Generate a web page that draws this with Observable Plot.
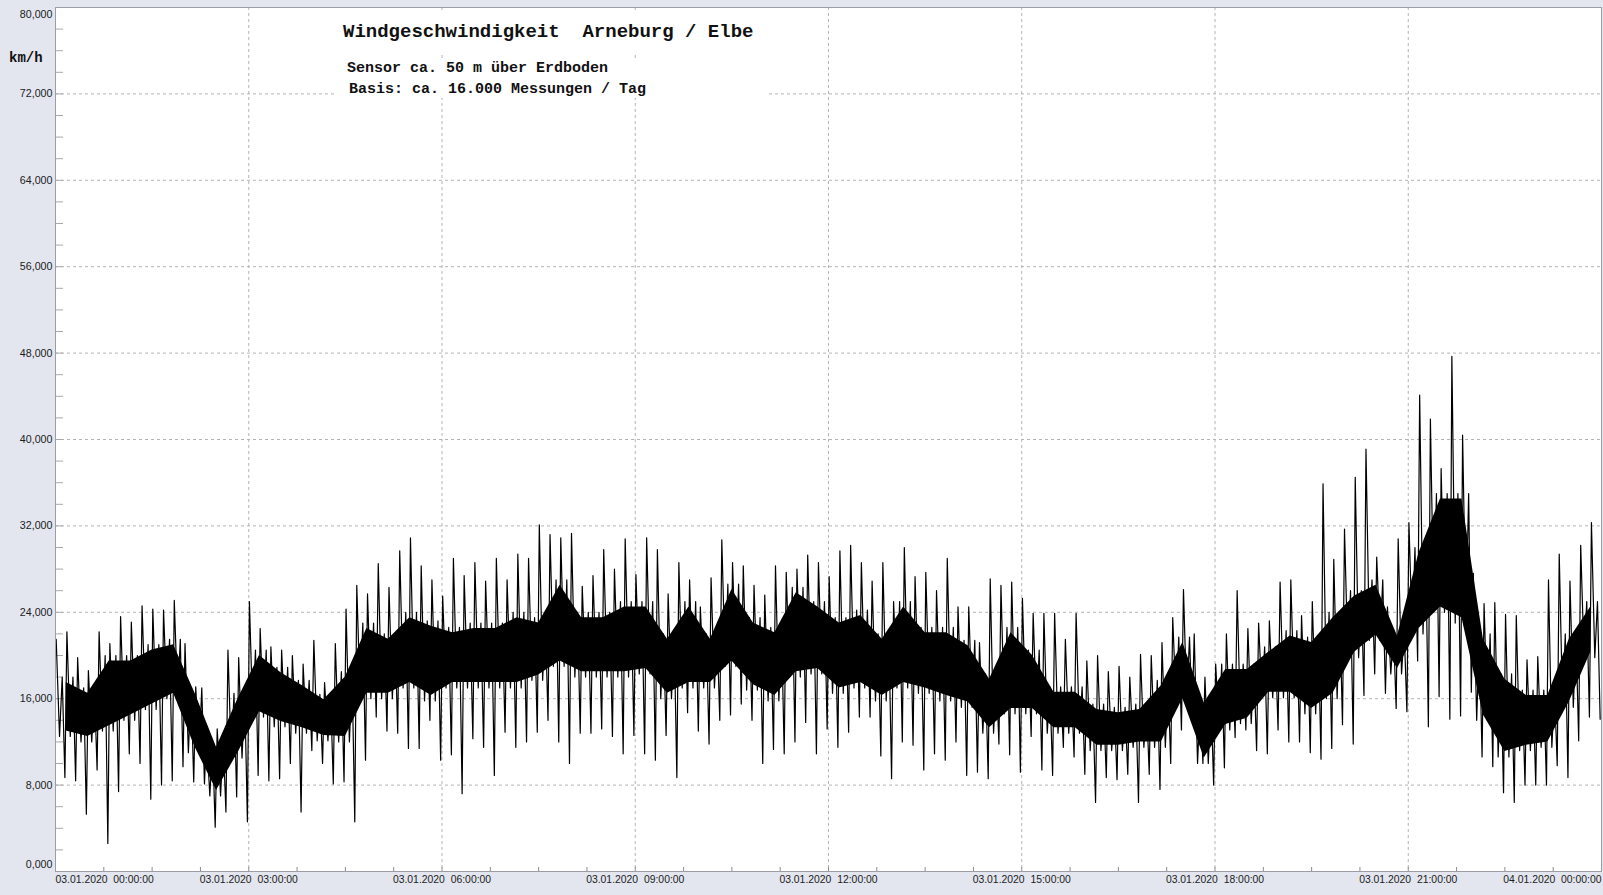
<!DOCTYPE html>
<html>
<head>
<meta charset="utf-8">
<script src="https://cdn.jsdelivr.net/npm/d3@7"></script>
<script src="https://cdn.jsdelivr.net/npm/@observablehq/plot@0.6"></script>
<style>
  html, body { margin: 0; padding: 0; background: #e3e6ef; }
  #wrap { position: relative; width: 1603px; height: 895px; overflow: hidden; }
  #wrap svg text { white-space: pre; }
  .box { position: absolute; background: #ffffff; }
  .txt { position: absolute; font-family: "Liberation Mono", "DejaVu Sans Mono", monospace; font-weight: bold; color: #111; white-space: pre; }
</style>
</head>
<body>
<div id="wrap">
  <div id="chart"></div>
  <div class="box" style="left:337px; top:11px; width:431px; height:44px;"></div>
  <div class="box" style="left:337px; top:61px; width:431px; height:37px;"></div>
  <div class="txt" style="left:343px; top:21px; font-size:19px; line-height:22px;">Windgeschwindigkeit  Arneburg / Elbe</div>
  <div class="txt" style="left:347px; top:60px; font-size:15px; line-height:18px;">Sensor ca. 50 m über Erdboden</div>
  <div class="txt" style="left:349px; top:81px; font-size:15px; line-height:18px;">Basis: ca. 16.000 Messungen / Tag</div>
  <div class="txt" style="left:9px; top:50px; font-size:14px; line-height:16px;">km/h</div>
</div>
<script>
// ---- data ----
// 10-minute bins, 03.01.2020 00:00 .. 24:00 : highest and lowest reading per bin (km/h)
const binHigh = [
  21.5, 22.2, 19.8, 18.6, 22.2, 21.1, 23.6, 23.1, 24.6, 24.3, 24.2, 25.1, 21.1, 17.1, 12.8, 13.2, 20.5, 19.8, 25.0, 22.5, 20.8, 20.5, 20.0, 19.2,
  21.4, 17.5, 21.1, 24.3, 26.5, 25.7, 28.5, 26.3, 29.7, 30.9, 28.3, 27.0, 25.5, 29.0, 27.4, 28.6, 26.9, 29.0, 27.0, 29.4, 29.0, 32.1, 31.2, 30.9,
  31.3, 26.4, 27.4, 29.8, 28.0, 30.8, 27.5, 30.9, 29.8, 25.7, 28.6, 27.0, 24.5, 27.2, 30.7, 28.6, 28.3, 26.5, 25.6, 28.3, 27.7, 28.0, 29.3, 28.6,
  27.3, 29.7, 30.2, 28.6, 26.9, 28.6, 25.0, 30.0, 27.3, 27.7, 26.0, 29.0, 24.5, 24.5, 21.2, 27.1, 26.5, 26.8, 25.3, 23.9, 23.9, 23.9, 21.5, 23.9,
  19.5, 20.0, 18.5, 19.0, 18.0, 20.1, 20.0, 21.2, 23.5, 26.1, 22.0, 18.0, 19.2, 22.0, 26.0, 22.5, 23.0, 23.2, 26.8, 27.0, 23.7, 25.0, 35.9, 28.9,
  31.7, 36.5, 39.1, 29.1, 24.5, 30.8, 32.3, 44.1, 41.9, 37.3, 47.7, 40.4, 27.6, 24.8, 24.9, 23.8, 23.7, 19.6, 19.9, 27.0, 29.4, 26.9, 30.2, 32.3
];
const binLow = [
  8.7, 8.4, 5.3, 9.4, 2.6, 7.4, 10.9, 10.0, 6.7, 8.0, 8.4, 9.7, 8.3, 8.1, 4.1, 5.5, 6.9, 4.6, 8.9, 8.4, 8.6, 10.0, 5.5, 11.2,
  10.0, 8.1, 8.3, 4.6, 10.3, 14.3, 13.0, 12.8, 11.4, 11.4, 14.0, 10.3, 10.8, 7.2, 12.3, 11.5, 8.9, 12.9, 11.5, 12.0, 12.9, 14.0, 12.0, 10.0,
  12.8, 12.8, 13.2, 12.5, 10.9, 12.6, 10.9, 10.3, 12.6, 8.7, 14.7, 13.0, 11.8, 14.0, 14.5, 15.5, 14.0, 10.0, 11.3, 10.9, 12.0, 13.8, 10.9, 13.2,
  11.5, 12.9, 14.3, 14.3, 10.7, 8.6, 12.0, 11.7, 9.4, 10.9, 10.3, 12.0, 8.9, 9.2, 8.6, 11.8, 10.8, 9.2, 12.5, 9.4, 8.9, 11.5, 10.6, 9.0,
  6.4, 8.7, 8.5, 9.0, 6.4, 9.0, 7.6, 10.0, 13.1, 14.3, 10.0, 8.0, 9.6, 12.4, 13.1, 11.2, 10.9, 13.1, 12.0, 12.0, 11.0, 10.4, 11.4, 13.6,
  11.8, 16.3, 18.3, 16.5, 15.1, 14.8, 19.5, 13.4, 16.2, 14.1, 14.4, 16.6, 10.6, 9.7, 7.3, 6.4, 8.0, 8.0, 8.0, 9.8, 8.7, 12.1, 14.3, 14.1
];
// 20-minute bins: dense core band of the readings (lower / upper edge, km/h)
const coreLow = [
  12.5, 12.0, 13.0, 14.0, 15.0, 16.0, 11.0, 7.0, 10.5, 14.3, 13.4, 12.8,
  12.1, 12.0, 16.0, 16.0, 17.0, 15.8, 17.0, 17.0, 17.0, 17.0, 17.7, 19.0,
  18.0, 18.0, 18.0, 18.3, 16.0, 17.0, 17.0, 19.0, 16.8, 15.8, 18.0, 18.3,
  16.5, 17.0, 15.8, 17.0, 16.5, 15.8, 15.2, 12.8, 14.6, 14.6, 12.8, 12.8,
  11.2, 11.2, 11.5, 11.5, 15.5, 10.0, 13.1, 13.7, 16.1, 16.1, 14.6, 16.0,
  19.8, 21.4, 18.3, 22.0, 24.0, 23.0, 14.0, 10.6, 11.2, 11.5, 15.2, 19.8
];
const coreHigh = [
  18.0, 17.0, 20.0, 20.0, 21.0, 21.5, 17.0, 12.0, 16.5, 20.5, 18.9, 17.7,
  16.4, 18.5, 23.0, 22.0, 24.0, 23.2, 22.6, 23.0, 23.0, 24.0, 23.5, 27.0,
  24.0, 24.0, 25.0, 25.0, 22.0, 25.0, 22.0, 26.6, 23.5, 22.6, 26.3, 25.0,
  23.5, 24.2, 22.0, 25.0, 22.6, 22.6, 21.4, 18.3, 22.6, 20.5, 17.1, 17.1,
  15.5, 15.2, 15.5, 17.7, 21.7, 16.1, 19.2, 19.2, 20.8, 22.3, 21.7, 24.0,
  26.0, 27.0, 22.3, 30.0, 35.0, 35.0, 22.0, 18.3, 16.8, 16.8, 22.0, 25.0
];
// axes
const yTicks = [0, 8, 16, 24, 32, 40, 48, 56, 64, 72, 80];
const xLabelHours = [0, 3, 6, 9, 12, 15, 18, 21, 24];
const xTickLabels = [
  "03.01.2020  00:00:00", "03.01.2020  03:00:00", "03.01.2020  06:00:00",
  "03.01.2020  09:00:00", "03.01.2020  12:00:00", "03.01.2020  15:00:00",
  "03.01.2020  18:00:00", "03.01.2020  21:00:00", "04.01.2020  00:00:00"
];

// ---- build tables ----
// trace per 10-minute bin: peak, core bottom, core top, trough
const trace = [];
binHigh.forEach((h, i) => {
  const j = Math.floor(i / 2);
  const t0 = i / 6;
  trace.push({t: t0 + 0.25 / 24, v: h});
  trace.push({t: t0 + 1.5 / 24, v: coreLow[j]});
  trace.push({t: t0 + 2.5 / 24, v: coreHigh[j]});
  trace.push({t: t0 + 3.5 / 24, v: binLow[i]});
});
const core = coreLow.map((lo, j) => ({t: j / 3 + 1 / 6, lo, hi: coreHigh[j]}));

const fmtY = d => d.toFixed(3).replace(".", ",");
const xLab = d => xTickLabels[xLabelHours.indexOf(d)];
const xMinor = d3.range(0, 24.001, 0.75);
const yMinor = d3.range(2, 80, 2);
const plotW = 1603 - 55 - 2, plotH = 895 - 7 - 24;

const chart = Plot.plot({
  width: 1603,
  height: 895,
  marginLeft: 55, marginRight: 2, marginTop: 7, marginBottom: 24,
  style: {background: "transparent", fontFamily: "'Liberation Sans', Arial, sans-serif", color: "#1c1c1c"},
  x: {domain: [0, 24], label: null},
  y: {domain: [0, 80], label: null},
  marks: [
    Plot.frame({fill: "#ffffff", stroke: null}),
    Plot.gridX(xLabelHours.slice(1, -1), {stroke: "#b4b4b4", strokeOpacity: 1, strokeDasharray: "3,3"}),
    Plot.gridY(yTicks.slice(1, -1), {stroke: "#b4b4b4", strokeOpacity: 1, strokeDasharray: "3,3"}),
    Plot.tickY(yMinor, {y: d => d, insetRight: plotW - 8, stroke: "#a8a8a8"}),
    Plot.tickX(xMinor, {x: d => d, insetTop: plotH - 4, stroke: "#8c8c8c"}),
    Plot.areaY(core, {x: "t", y1: d => d.lo + 0.5, y2: d => d.hi - 0.5, fill: "#000"}),
    Plot.line(trace, {x: "t", y: "v", stroke: "#000", strokeWidth: 1.2, clip: true}),
    Plot.frame({stroke: "#9c9ca4"}),
    Plot.axisY(yTicks.slice(1, -1), {tickSize: 0, tickPadding: 3, tickFormat: fmtY, fontSize: 10.7, label: null}),
    Plot.axisY([80], {tickSize: 0, tickPadding: 3, tickFormat: fmtY, fontSize: 10.7, dy: 7, label: null}),
    Plot.axisY([0], {tickSize: 0, tickPadding: 3, tickFormat: fmtY, fontSize: 10.7, dy: -7, label: null}),
    Plot.axisX(xLabelHours.slice(1, -1), {tickSize: 0, tickPadding: 4, tickFormat: xLab, fontSize: 10.4, label: null}),
    Plot.axisX([0], {tickSize: 0, tickPadding: 4, tickFormat: xLab, fontSize: 10.4, textAnchor: "start", label: null}),
    Plot.axisX([24], {tickSize: 0, tickPadding: 4, tickFormat: xLab, fontSize: 10.4, textAnchor: "end", label: null})
  ]
});
document.getElementById("chart").appendChild(chart);
</script>
</body>
</html>
